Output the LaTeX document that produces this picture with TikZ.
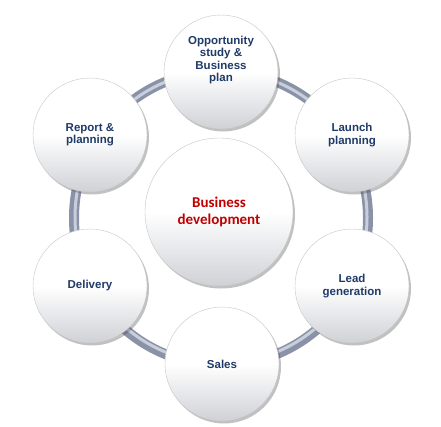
\documentclass[tikz,border=0pt]{standalone}
\usepackage{fontspec}
\setmainfont{Liberation Sans}
\newfontfamily\calfont{Carlito}
\usetikzlibrary{shadows}
\definecolor{txtblue}{HTML}{1F3A68}
\definecolor{txtred}{HTML}{C00000}
\definecolor{ringdark}{HTML}{8A92A8}
\definecolor{ringlight}{HTML}{C9CEDB}
\definecolor{circbot}{HTML}{CFD1D6}
\tikzset{
  bubble/.style={circle, inner sep=0pt, minimum size=114pt, draw=gray!45, line width=0.4pt,
    top color=white, bottom color=circbot, middle color=white,
    drop shadow={shadow xshift=2pt, shadow yshift=-2.5pt, opacity=0.35, fill=black!70},
    align=center, text=txtblue, font=\bfseries\fontsize{11.5}{12.3}\selectfont},
  bigbubble/.style={bubble, minimum size=148pt, text=txtred, font=\calfont\bfseries\fontsize{15}{16.5}\selectfont},
  lbl/.style={align=center, text=txtblue, font=\bfseries\fontsize{11.5}{12.3}\selectfont, inner sep=0pt}
}
\begin{document}
\begin{tikzpicture}[x=1pt,y=-1pt]
\useasboundingbox (0,0) rectangle (441,426);
\coordinate (ctr) at (221,218);
% ring
\draw[ringdark, line width=10pt] (ctr) circle[radius=147];
\draw[ringlight, line width=3pt] (ctr) ++(0,-1) circle[radius=146];
% circles
\node[bubble] (opp) at (221,72) {};
\node[lbl] (opptxt) at (221,60) {Opportunity\\study \&\\Business\\plan};
\node[bubble] (launch) at (352,135) {Launch\\planning};
\node[bubble] (lead) at (352,286) {Lead\\generation};
\node[bubble] (sales) at (222,364) {Sales};
\node[bubble] (deliv) at (90,286) {Delivery};
\node[bubble] (report) at (90,135) {Report \&\\planning};
\node[bigbubble] (bizdev) at (219,212) {Business\\development};
\end{tikzpicture}
\end{document}
